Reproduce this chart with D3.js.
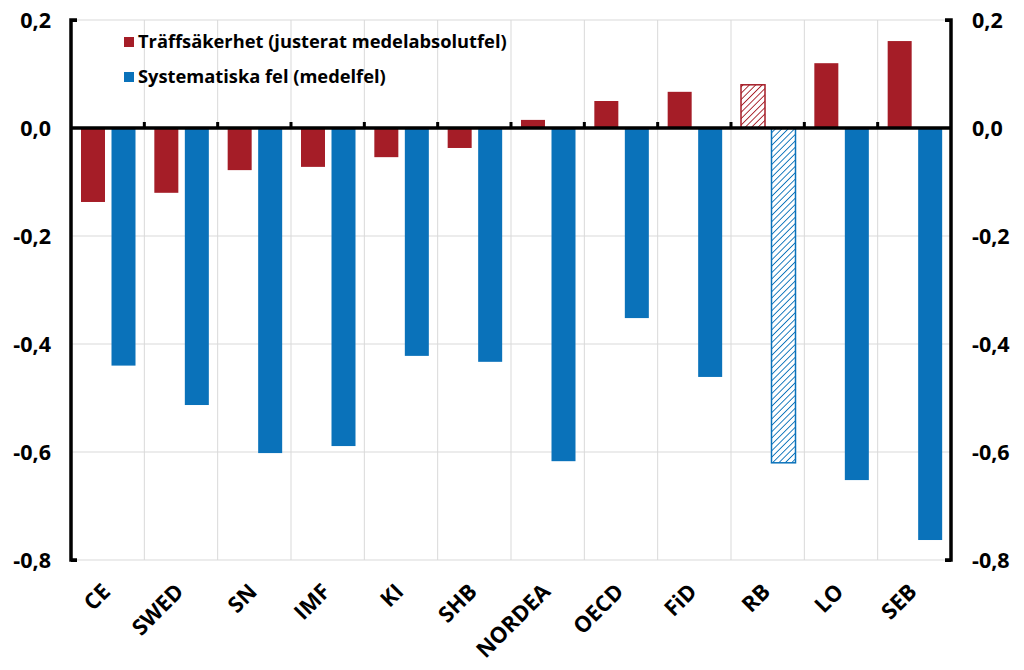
<!DOCTYPE html>
<html><head><meta charset="utf-8">
<script src="https://cdn.jsdelivr.net/npm/d3@7"></script>
<style>body{margin:0;background:#fff}svg{display:block}text{font-family:"Open Sans","Noto Sans",sans-serif;font-weight:700;fill:#000}</style>
</head><body><svg id="c" width="1024" height="670"></svg>
<script>
const categories = ["CE","SWED","SN","IMF","KI","SHB","NORDEA","OECD","FiD","RB","LO","SEB"];
const accuracy = [-0.137,-0.120,-0.078,-0.072,-0.054,-0.037,0.015,0.050,0.067,0.080,0.120,0.161];
const bias = [-0.440,-0.513,-0.602,-0.589,-0.422,-0.433,-0.617,-0.352,-0.461,-0.620,-0.652,-0.763];
const hatched = ["RB"];
const yTicks = [0.2,0.0,-0.2,-0.4,-0.6,-0.8];
const seriesNames = ["Träffsäkerhet (justerat medelabsolutfel)","Systematiska fel (medelfel)"];
const colors = ["#A51D27","#0A72BA"];

const svg = d3.select("#c");
const L = 71, R = 951, T = 20, B = 560;
const x = d3.scaleBand().domain(categories).range([L,R]);
const y = d3.scaleLinear().domain([-0.8,0.2]).range([B,T]);
const fmt = v => d3.format(".1f")(v).replace(".",",").replace("−","-");

const defs = svg.append("defs");
colors.forEach((c,i)=>{
  const p = defs.append("pattern").attr("id","h"+i).attr("patternUnits","userSpaceOnUse")
    .attr("width",4.5).attr("height",4.5).attr("patternTransform","rotate(45)");
  p.append("rect").attr("width",4.5).attr("height",4.5).attr("fill","#fff");
  p.append("line").attr("x1",0).attr("y1",0).attr("x2",0).attr("y2",4.5).attr("stroke",c).attr("stroke-width",1.8);
});

// grid
svg.append("g").selectAll("line").data(yTicks).join("line")
  .attr("x1",L).attr("x2",R).attr("y1",d=>y(d)).attr("y2",d=>y(d)).attr("stroke","#d9d9d9").attr("stroke-width",1);
svg.append("g").selectAll("line").data(categories.slice(1)).join("line")
  .attr("x1",d=>x(d)).attr("x2",d=>x(d)).attr("y1",T).attr("y2",B).attr("stroke","#d9d9d9").attr("stroke-width",1);

// bars
const bw = 24, off = [10, 40.5];
[accuracy,bias].forEach((vals,si)=>{
  svg.append("g").selectAll("rect").data(categories).join("rect")
    .attr("x",(d)=>x(d)+off[si])
    .attr("width",bw)
    .attr("y",(d,i)=>Math.min(y(vals[i]),y(0)))
    .attr("height",(d,i)=>Math.abs(y(vals[i])-y(0)))
    .attr("fill",d=>hatched.includes(d)?`url(#h${si})`:colors[si])
    .attr("stroke",d=>hatched.includes(d)?colors[si]:"none")
    .attr("stroke-width",1.5);
});

// zero line with ticks
svg.append("line").attr("x1",L).attr("x2",R).attr("y1",y(0)).attr("y2",y(0)).attr("stroke","#000").attr("stroke-width",3.5);
svg.append("g").selectAll("line").data(categories.slice(1)).join("line")
  .attr("x1",d=>x(d)).attr("x2",d=>x(d)).attr("y1",y(0)-6).attr("y2",y(0)).attr("stroke","#000").attr("stroke-width",3);

// left axis
const la = svg.append("g").attr("transform",`translate(${L},0)`)
  .call(d3.axisLeft(y).tickValues([0.2,-0.8]).tickSize(-6).tickFormat(""));
la.select(".domain").attr("stroke-width",3.5).attr("d",`M-6,${T}H0V${B}H-6`).attr("transform","scale(-1,1)");
la.selectAll(".tick line").attr("stroke-width",3);
svg.append("g").selectAll("text").data(yTicks).join("text")
  .attr("x",51).attr("y",d=>y(d)).attr("dy","0.35em").attr("text-anchor","end").attr("font-size",21.5).text(fmt);

// right axis
const ra = svg.append("g").attr("transform",`translate(${R},0)`)
  .call(d3.axisRight(y).tickValues([0.2,-0.8]).tickSize(-6).tickFormat(""));
ra.select(".domain").attr("stroke-width",3.5).attr("d",`M-6,${T}H0V${B}H-6`);
ra.selectAll(".tick line").attr("stroke-width",3);
svg.append("g").selectAll("text").data(yTicks).join("text")
  .attr("x",972).attr("y",d=>y(d)).attr("dy","0.35em").attr("text-anchor","start").attr("font-size",21.5).text(fmt);

// category labels
svg.append("g").selectAll("text").data(categories).join("text")
  .attr("transform",d=>`translate(${x(d)+x.bandwidth()/2+4},${B+33}) rotate(-45)`)
  .attr("text-anchor","end").attr("font-size",22).text(d=>d);

// legend
const lg = svg.append("g");
seriesNames.forEach((n,i)=>{
  lg.append("rect").attr("x",124).attr("y",37+i*35).attr("width",10).attr("height",10).attr("fill",colors[i]);
  lg.append("text").attr("x",138).attr("y",42+i*35).attr("dy","0.35em").attr("font-size",18.3).text(n);
});
</script></body></html>
